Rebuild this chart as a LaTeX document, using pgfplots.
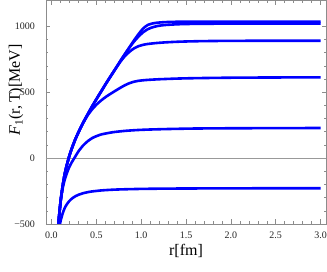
\documentclass[border=0pt]{standalone}
\usepackage{fontspec}
\setmainfont{Liberation Serif}
\usepackage{pgfplots}
\pgfplotsset{compat=1.18}
\begin{document}
\begin{tikzpicture}
\begin{axis}[
  name=ax,
  scale only axis, width=280pt, height=223.5pt,
  xmin=-0.06, xmax=3.06, ymin=-500, ymax=1195,
  xtick={0,0.5,1,1.5,2,2.5,3},
  xticklabels={0.0,0.5,1.0,1.5,2.0,2.5,3.0},
  ytick={-500,0,500,1000},
  yticklabels={−500,0,500,1000},
  minor x tick num=4, minor y tick num=4,
  tick align=inside, major tick length=4.5pt, minor tick length=2.5pt,
  axis line style={black!45, line width=0.6pt},
  every tick/.append style={black!45, line width=0.5pt},
  /pgf/number format/assume math mode=true,
  tick label style={font=\fontsize{10}{11}\selectfont, text=black!85},
  xticklabel style={yshift=-4.5pt},
  yticklabel style={xshift=-7.5pt},
  xlabel={r[fm]},
  ylabel={\textit{F}\textsubscript{1}(r,\,T)[MeV]},
  label style={font=\fontsize{16}{18}\selectfont},
  xlabel style={at={(axis description cs:0.5,0)}, anchor=base, yshift=-31.5pt},
  ylabel style={at={(axis description cs:-0.093,0.6)}, anchor=base},
  curve/.style={blue, line width=2.6pt, smooth, tension=0.4, mark=none},
]
\addplot[black!40, line width=0.6pt, sharp plot, mark=none] coordinates {(-0.06,0) (3.06,0)};
% curve A
\addplot[curve] coordinates {
(0.053,-801.6)(0.064,-659.1)(0.074,-545.9)(0.084,-453.9)(0.095,-377.6)(0.105,-313.3)
(0.126,-210.3)(0.146,-130.7)(0.167,-66.3)(0.198,11.8)(0.229,75.7)(0.270,147.6)
(0.312,210.1)(0.353,266.8)(0.405,332.4)(0.456,394.3)(0.508,453.7)(0.560,511.5)
(0.611,568.1)(0.663,623.9)(0.715,679.0)(0.766,733.6)(0.818,787.8)(0.870,841)
(0.921,893)(0.973,942)(1.024,984)(1.076,1010)(1.128,1021)(1.179,1026.5)
(1.231,1029.5)(1.283,1031.5)(1.386,1033.5)(1.489,1034.3)(1.696,1034.8)(2.006,1035)(3.0,1035)};
% curve B
\addplot[curve] coordinates {
(0.053,-801.6)(0.064,-659.1)(0.074,-545.9)(0.084,-453.9)(0.095,-377.6)(0.105,-313.3)
(0.126,-210.3)(0.146,-130.7)(0.167,-66.3)(0.198,11.8)(0.229,75.7)(0.270,147.6)
(0.312,210.1)(0.353,266.8)(0.405,332.4)(0.456,394.3)(0.508,453.6)(0.560,511.2)
(0.611,567.5)(0.663,622.8)(0.715,677.5)(0.766,733)(0.818,787)(0.870,838)
(0.921,884)(0.973,923)(1.024,955)(1.076,978)(1.128,992)(1.179,1001)
(1.231,1006.5)(1.283,1010)(1.386,1014)(1.489,1016.5)(1.696,1018.5)(2.006,1019.6)(2.522,1020)(3.0,1020)};
% curve C
\addplot[curve] coordinates {
(0.053,-801.6)(0.064,-659.1)(0.074,-545.9)(0.084,-453.9)(0.095,-377.6)(0.105,-313.3)
(0.126,-210.3)(0.146,-130.7)(0.167,-66.3)(0.198,11.8)(0.229,75.7)(0.270,147.6)
(0.312,210.1)(0.353,266.8)(0.405,332.4)(0.456,394.3)(0.508,453.7)(0.560,511.3)
(0.611,568.1)(0.663,623)(0.715,677)(0.766,728)(0.818,772)(0.870,806)
(0.921,832)(0.973,849)(1.024,859)(1.076,865.5)(1.179,873)(1.283,878)
(1.386,881.5)(1.489,884)(1.696,887)(2.006,889)(2.522,889.8)(3.0,890)};
% curve D
\addplot[curve] coordinates {
(0.053,-801.6)(0.064,-659.1)(0.074,-545.9)(0.084,-453.9)(0.095,-377.6)(0.105,-313.3)
(0.126,-210.4)(0.146,-130.9)(0.167,-66.6)(0.198,11.3)(0.229,75.2)(0.270,147.4)
(0.312,209.5)(0.353,265)(0.405,325)(0.456,371)(0.508,409)(0.560,440)
(0.611,466)(0.663,489)(0.715,511)(0.766,532)(0.818,552)(0.870,568)
(0.921,579)(0.973,586)(1.024,590)(1.076,593)(1.179,597)(1.283,600)
(1.386,602.5)(1.489,604.5)(1.696,607)(2.006,609.5)(2.522,611.3)(3.0,612)};
% curve E
\addplot[curve] coordinates {
(0.064,-700)(0.074,-570)(0.084,-465)(0.095,-385)(0.105,-320)(0.126,-230)
(0.146,-170)(0.167,-125)(0.198,-70)(0.229,-30)(0.256,0)(0.301,50)
(0.353,95)(0.405,128)(0.456,152)(0.498,165)(0.560,180)(0.684,196)
(0.818,206)(0.942,212)(1.076,216)(1.283,220)(1.593,224)(2.006,226)(2.522,227)(3.0,228)};
% curve F
\addplot[curve] coordinates {
(0.064,-658.6)(0.074,-594.9)(0.084,-544.3)(0.095,-503.6)(0.105,-470.2)(0.126,-419.4)
(0.146,-383)(0.167,-356.1)(0.198,-327.2)(0.229,-307.1)(0.270,-288.5)(0.312,-275.8)
(0.353,-266.8)(0.405,-258.6)(0.456,-252.8)(0.560,-245.2)(0.663,-240.7)(0.766,-237.7)
(0.973,-234.2)(1.179,-232.3)(1.489,-230.8)(2.006,-229.6)(2.522,-229.0)(3.0,-228.7)};
\end{axis}
\pgfresetboundingbox
\path[use as bounding box] ([xshift=-46pt,yshift=-48pt]ax.south west) rectangle ([xshift=1pt,yshift=0.5pt]ax.north east);
\end{tikzpicture}
\end{document}
